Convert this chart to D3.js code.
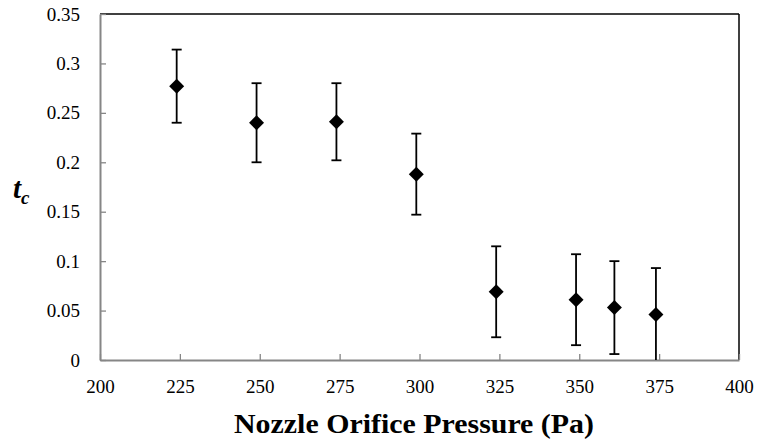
<!DOCTYPE html>
<html><head><meta charset="utf-8">
<script src="https://cdn.jsdelivr.net/npm/d3@7/dist/d3.min.js"></script>
<style>body{margin:0;background:#fff}svg{display:block}
svg text{font-family:"Liberation Serif","Times New Roman",Times,"DejaVu Serif",serif !important;}
</style>
</head><body>
<svg id="chart" width="758" height="440"></svg>
<script>
const pressure = [224, 249, 274, 299, 324, 349, 361, 374];
const tc =       [0.277, 0.240, 0.241, 0.188, 0.069, 0.061, 0.053, 0.046];
const tcErr =    [0.037, 0.040, 0.039, 0.041, 0.046, 0.046, 0.047, 0.047];
const xTicks = [200, 225, 250, 275, 300, 325, 350, 375, 400];
const yTicks = [0, 0.05, 0.1, 0.15, 0.2, 0.25, 0.3, 0.35];

const svg = d3.select("#chart");
const L = 100, R = 739, T = 14, B = 360;
const x = d3.scaleLinear().domain([200, 400]).range([L, R]);
const y = d3.scaleLinear().domain([0, 0.35]).range([B, T]);
const grey = "#868686";

svg.append("line").attr("x1", L).attr("x2", R).attr("y1", T).attr("y2", T).attr("stroke", "#000").attr("stroke-width", 1.5);
svg.append("line").attr("x1", R).attr("x2", R).attr("y1", T).attr("y2", B).attr("stroke", "#000").attr("stroke-width", 1.5);

const yAxis = svg.append("g").attr("transform", `translate(${L},0)`)
  .call(d3.axisLeft(y).tickValues(yTicks).tickSizeInner(-6).tickSizeOuter(0).tickPadding(20)
    .tickFormat(d => String(+d.toFixed(2))));
yAxis.select(".domain").attr("stroke", grey).attr("stroke-width", 2);
yAxis.selectAll(".tick line").attr("stroke", grey).attr("stroke-width", 1.3);
yAxis.selectAll("text").attr("font-size", 19).attr("fill", "#000");

const xAxis = svg.append("g").attr("transform", `translate(0,${B})`)
  .call(d3.axisBottom(x).tickValues(xTicks).tickSizeInner(-6).tickSizeOuter(0).tickPadding(20));
xAxis.select(".domain").attr("stroke", grey).attr("stroke-width", 2);
xAxis.selectAll(".tick line").attr("stroke", grey).attr("stroke-width", 1.3);
xAxis.selectAll("text").attr("font-size", 19).attr("fill", "#000").attr("dy", "0.71em");

const data = pressure.map((p, i) => ({p, v: tc[i], e: tcErr[i]}));
const g = svg.append("g");
const clipLo = v => Math.max(0, v);
g.selectAll(".eb").data(data).join("line")
  .attr("x1", d => x(d.p)).attr("x2", d => x(d.p))
  .attr("y1", d => y(d.v + d.e)).attr("y2", d => y(clipLo(d.v - d.e)))
  .attr("stroke", "#000").attr("stroke-width", 1.8);
g.selectAll(".capt").data(data).join("line")
  .attr("x1", d => x(d.p) - 5).attr("x2", d => x(d.p) + 5)
  .attr("y1", d => y(d.v + d.e)).attr("y2", d => y(d.v + d.e))
  .attr("stroke", "#000").attr("stroke-width", 1.8);
g.selectAll(".capb").data(data.filter(d => d.v - d.e > 0)).join("line")
  .attr("x1", d => x(d.p) - 5).attr("x2", d => x(d.p) + 5)
  .attr("y1", d => y(d.v - d.e)).attr("y2", d => y(d.v - d.e))
  .attr("stroke", "#000").attr("stroke-width", 1.8);
g.selectAll(".pt").data(data).join("path")
  .attr("d", d3.symbol(d3.symbolSquare, 112))
  .attr("transform", d => `translate(${x(d.p)},${y(d.v)}) rotate(45)`)
  .attr("fill", "#000");

svg.append("text").attr("x", 414).attr("y", 433).attr("text-anchor", "middle")
  .attr("font-size", 28).attr("font-weight", "bold")
  .attr("textLength", 360).attr("lengthAdjust", "spacingAndGlyphs")
  .text("Nozzle Orifice Pressure (Pa)");
const yl = svg.append("text").attr("x", 13).attr("y", 198)
  .attr("font-size", 29).attr("font-weight", "bold").attr("font-style", "italic");
yl.append("tspan").text("t");
yl.append("tspan").attr("font-size", 19).attr("dy", 6).text("c");
</script>
</body></html>
